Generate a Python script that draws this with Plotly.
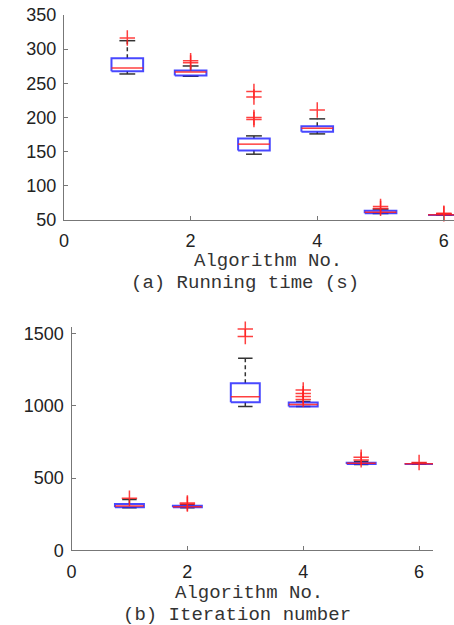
import plotly.graph_objects as go

# ---------------- data ----------------
alg = [1, 2, 3, 4, 5, 6]

# (a) running time (s)
time_lower = [263.7, 260.4, 146.3, 176.0, 59.5, 57.0]
time_q1 = [267.7, 261.3, 151.6, 179.0, 60.0, 57.2]
time_median = [272.5, 266.7, 161.0, 184.3, 61.5, 57.6]
time_q3 = [286.7, 268.6, 169.2, 187.3, 63.5, 58.0]
time_upper = [312.4, 275.4, 173.1, 198.0, 66.0, 58.3]
time_outliers = [[316.4], [280.0, 283.0], [197.0, 200.0, 230.0, 238.0], [211.0], [67.0, 69.7], [59.0, 59.8]]

# (b) iteration number
iter_lower = [295, 295, 995, 995, 595, 596]
iter_q1 = [298, 298, 1026, 995, 598, 598]
iter_median = [307, 302, 1064, 1009, 602, 600]
iter_q3 = [321, 309, 1157, 1023, 607, 602]
iter_upper = [352, 315, 1330, 1030, 615, 604]
iter_outliers = [[360], [320, 328], [1480, 1532], [1045, 1065, 1085, 1110], [626, 644], [608]]

x_ticks = [0, 2, 4, 6]
time_ticks = [50, 100, 150, 200, 250, 300, 350]
iter_ticks = [0, 500, 1000, 1500]

BOX_W = 0.5
BLUE = "rgba(40,40,255,0.85)"
RED = "rgba(255,30,30,0.85)"


def box_traces(xs, lo, q1, med, q3, hi, outl, xa, ya):
    h = BOX_W / 2
    c = BOX_W / 4
    wx, wy, cx, cy, bx, by, mx, my, ox, oy = [], [], [], [], [], [], [], [], [], []
    for i, a in enumerate(xs):
        wx += [a, a, None, a, a, None]
        wy += [q3[i], hi[i], None, q1[i], lo[i], None]
        cx += [a - c, a + c, None, a - c, a + c, None]
        cy += [hi[i], hi[i], None, lo[i], lo[i], None]
        bx += [a - h, a + h, a + h, a - h, a - h, None]
        by += [q1[i], q1[i], q3[i], q3[i], q1[i], None]
        mx += [a - h, a + h, None]
        my += [med[i], med[i], None]
        for v in outl[i]:
            ox.append(a)
            oy.append(v)
    common = dict(xaxis=xa, yaxis=ya, showlegend=False, hoverinfo="skip", cliponaxis=False)
    return [
        go.Scatter(x=wx, y=wy, mode="lines", line=dict(color="#333333", width=1.5, dash="4px,3px"), **common),
        go.Scatter(x=cx, y=cy, mode="lines", line=dict(color="#333333", width=1.5), **common),
        go.Scatter(x=bx, y=by, mode="lines", line=dict(color=BLUE, width=2), **common),
        go.Scatter(x=mx, y=my, mode="lines", line=dict(color=RED, width=1.5), **common),
        go.Scatter(x=ox, y=oy, mode="markers",
                   marker=dict(symbol="cross-thin", size=11, line=dict(color=RED, width=1.5)), **common),
    ]


fig = go.Figure()
for t in box_traces(alg, time_lower, time_q1, time_median, time_q3, time_upper, time_outliers, "x", "y"):
    fig.add_trace(t)
for t in box_traces(alg, iter_lower, iter_q1, iter_median, iter_q3, iter_upper, iter_outliers, "x2", "y2"):
    fig.add_trace(t)

W, H = 454, 625
tickfont = dict(family="Liberation Sans, Arial, sans-serif", size=18, color="#222222")
axis_common = dict(showline=True, linecolor="#777777", linewidth=1.2, ticks="inside", ticklen=4,
                   tickcolor="#777777", showgrid=False, zeroline=False, tickfont=tickfont,
                   mirror=False, automargin=False)

# bottom y axis: 0 at 550.3 px, 1500 at 333.7 px; top of range extended a little so the
# highest outlier is not dropped
y2_px_per_unit = (550.3 - 333.7) / 1500
y2_top = 1545
y2_top_px = 550.3 - y2_top * y2_px_per_unit

fig.update_layout(
    template="none",
    width=W, height=H,
    margin=dict(l=0, r=0, t=0, b=0, pad=0),
    paper_bgcolor="white", plot_bgcolor="white",
    xaxis=dict(domain=[64 / W, 1.0], range=[0, 6.16], tickvals=x_ticks, anchor="y",
               ticklabelstandoff=4, **axis_common),
    yaxis=dict(domain=[1 - 220 / H, 1 - 15 / H], range=[50, 350], tickvals=time_ticks, anchor="x",
               ticklabelstandoff=3, **axis_common),
    xaxis2=dict(domain=[71.5 / W, 433 / W], range=[0, 6.24], tickvals=x_ticks, anchor="y2",
                ticklabelstandoff=5, **axis_common),
    yaxis2=dict(domain=[1 - 550.3 / H, 1 - y2_top_px / H], range=[0, y2_top], tickvals=iter_ticks,
                anchor="x2", ticklabelstandoff=3, **axis_common),
)

mono = "Liberation Mono, DejaVu Sans Mono, monospace"
annos = [
    ("Algorithm No.", 268, 261, 19),
    ("(a) Running time (s)", 245, 283, 19),
    ("Algorithm No.", 249, 593, 19),
    ("(b) Iteration number", 237, 615, 19),
]
for text, px, py, fs in annos:
    fig.add_annotation(text=text, x=px / W, y=1 - py / H, xref="paper", yref="paper",
                       showarrow=False, xanchor="center", yanchor="middle",
                       font=dict(family=mono, size=fs, color="#333333"))

fig.write_html("out.html", config={"displayModeBar": False},
               post_script="document.body.style.margin='0px';document.body.style.padding='0px';")
